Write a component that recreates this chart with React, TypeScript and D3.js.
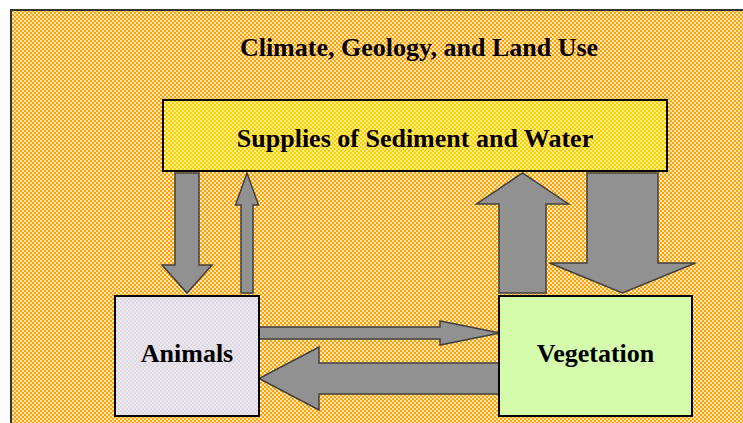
import React from 'react'
import * as d3 from 'd3'

const W = 743
const H = 423

// boxes of the diagram: [name, label, x0, y0, x1, y1]
const boxNames = ['supplies', 'animals', 'vegetation']
const boxLabels = ['Supplies of Sediment and Water', 'Animals', 'Vegetation']
const boxExtents = [
  [163, 100, 667, 171],
  [115, 296, 259, 416],
  [499, 296, 692, 416],
]
const boxFills = ['url(#yellowCheck)', 'url(#lavenderCheck)', '#d4fcac']

// arrows: direction, axis position (centre of shaft), start, tip, shaft width, head width, head length
const arrowDirs = ['down', 'up', 'up', 'down', 'right', 'left']
const arrowCentres = [187, 247, 522.5, 622.5, 333, 378.5]
const arrowStarts = [173, 293, 293, 173, 259, 499]
const arrowTips = [293, 173, 173, 293, 500, 259]
const arrowShafts = [24, 12, 47, 71, 12, 31]
const arrowHeads = [50, 23, 92, 146, 24, 63]
const arrowHeadLens = [28, 32, 31, 30, 60, 60]

const title = 'Climate, Geology, and Land Use'

const line = d3.line<[number, number]>()

function arrowPath(i: number) {
  const dir = arrowDirs[i]
  const c = arrowCentres[i]
  const s = arrowStarts[i]
  const t = arrowTips[i]
  const sw = arrowShafts[i] / 2
  const hw = arrowHeads[i] / 2
  const sign = t > s ? 1 : -1
  const hb = t - sign * arrowHeadLens[i]
  // points in (along, across) then mapped to x/y
  const pts: [number, number][] = [
    [s, c - sw],
    [hb, c - sw],
    [hb, c - hw],
    [t, c],
    [hb, c + hw],
    [hb, c + sw],
    [s, c + sw],
  ]
  const vertical = dir === 'up' || dir === 'down'
  const mapped = pts.map(([a, b]) => (vertical ? [b, a] : [a, b]) as [number, number])
  return line(mapped) + 'Z'
}

function Check({ id, bg, fg }: { id: string; bg: string; fg: string }) {
  return (
    <pattern id={id} width={4} height={4} patternUnits="userSpaceOnUse">
      <rect width={4} height={4} fill={bg} />
      <rect x={0} y={0} width={2} height={2} fill={fg} />
      <rect x={2} y={2} width={2} height={2} fill={fg} />
    </pattern>
  )
}

export default function App() {
  return (
    <svg
      width={W}
      height={H}
      style={{ position: 'absolute', left: 0, top: 0, background: '#fff' }}
      fontFamily="'Liberation Serif', 'Times New Roman', serif"
    >
      <defs>
        <Check id="orangeCheck" bg="#ffa200" fg="#ffe6bc" />
        <Check id="yellowCheck" bg="#ffcc00" fg="#fff088" />
        <Check id="lavenderCheck" bg="#d9d9f1" fg="#f1e6e0" />
      </defs>

      <rect x={11} y={10} width={W + 20} height={H + 20} fill="url(#orangeCheck)" stroke="#333" strokeWidth={2} />

      <text x={419} y={56} textAnchor="middle" fontSize={26} fontWeight="bold" fill="#000">
        {title}
      </text>

      {arrowDirs.map((d, i) => (
        <path key={i} d={arrowPath(i)} fill="#919191" stroke="#404040" strokeWidth={1.5} strokeLinejoin="miter" />
      ))}

      {boxNames.map((n, i) => {
        const [x0, y0, x1, y1] = boxExtents[i]
        return (
          <g key={n}>
            <rect x={x0} y={y0} width={x1 - x0} height={y1 - y0} fill={boxFills[i]} stroke="#000" strokeWidth={2} />
            <text
              x={(x0 + x1) / 2}
              y={n === 'supplies' ? 146.5 : 362}
              textAnchor="middle"
              fontSize={26}
              fontWeight="bold"
              fill="#000"
            >
              {boxLabels[i]}
            </text>
          </g>
        )
      })}
    </svg>
  )
}
